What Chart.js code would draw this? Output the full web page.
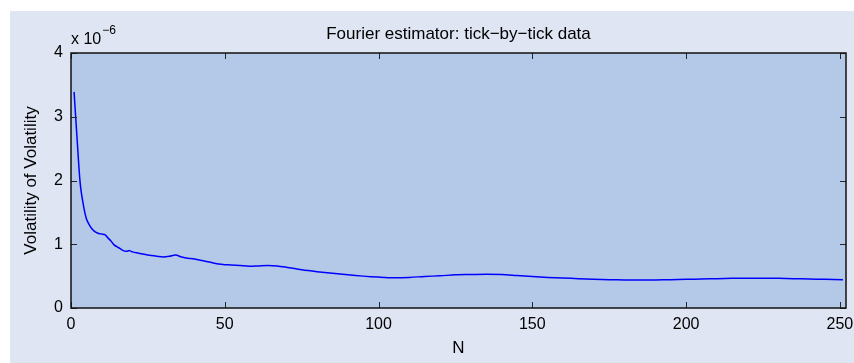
<!DOCTYPE html>
<html lang="en">
<head>
  <meta charset="UTF-8" />
  <title>Fourier estimator: tick-by-tick data</title>
  <script src="https://cdn.jsdelivr.net/npm/chart.js"></script>
  <style>
    body {
      margin: 0;
      background: #ffffff;
    }
    #wrap {
      width: 854px;
      height: 363px;
    }
  </style>
</head>
<body>

<div id="wrap">
  <canvas id="volChart" width="854" height="363"></canvas>
</div>

<script>
// number of tick-by-tick observations N
const nValues = [
  1, 2, 3, 4, 5, 6, 7, 8, 9, 10,
  11, 12, 13, 14, 15, 16, 17, 18, 19, 20,
  22, 25, 28, 30, 32, 34, 36, 38, 40, 42,
  44, 46, 48, 50, 52, 55, 58, 61, 64, 67,
  70, 75, 80, 85, 90, 95, 100, 105, 110, 115,
  120, 125, 130, 135, 140, 145, 150, 155, 160, 165,
  170, 175, 180, 185, 190, 195, 200, 205, 210, 215,
  220, 225, 230, 235, 240, 245, 251
];
// volatility of volatility, in units of 10^-6
const volValues = [
  3.39, 2.64, 1.95, 1.62, 1.40, 1.30, 1.23, 1.19, 1.17, 1.16,
  1.15, 1.10, 1.05, 0.99, 0.96, 0.93, 0.90, 0.89, 0.90, 0.88,
  0.86, 0.83, 0.81, 0.80, 0.81, 0.83, 0.80, 0.78, 0.77, 0.75,
  0.73, 0.71, 0.69, 0.68, 0.675, 0.665, 0.655, 0.66, 0.665, 0.66,
  0.64, 0.60, 0.57, 0.545, 0.52, 0.50, 0.485, 0.475, 0.48, 0.495,
  0.505, 0.52, 0.525, 0.53, 0.525, 0.51, 0.495, 0.48, 0.47, 0.46,
  0.45, 0.445, 0.44, 0.44, 0.44, 0.445, 0.45, 0.455, 0.46, 0.465,
  0.465, 0.465, 0.465, 0.46, 0.455, 0.45, 0.445
];
const xTicks = [0, 50, 100, 150, 200, 250];
const yTicks = [0, 1, 2, 3, 4];
const yExponent = '\u22126';

const FONT = "'Liberation Sans', Arial, sans-serif";
const FIG_BG = '#dfe5f2';
const AX_BG = '#b4c9e8';

// figure background, axes box, inward ticks and text labels (MATLAB look)
const matlabFrame = {
  id: 'matlabFrame',
  beforeDraw(chart) {
    const { ctx, chartArea: a } = chart;
    ctx.save();
    ctx.fillStyle = '#ffffff';
    ctx.fillRect(0, 0, chart.width, chart.height);
    ctx.fillStyle = FIG_BG;
    ctx.fillRect(10, 11, chart.width - 10, chart.height - 11);
    ctx.fillStyle = AX_BG;
    ctx.fillRect(a.left, a.top, a.right - a.left, a.bottom - a.top);
    ctx.restore();
  },
  afterDraw(chart) {
    const { ctx, chartArea: a, scales } = chart;
    const len = 6;
    ctx.save();
    ctx.strokeStyle = '#262626';
    ctx.lineWidth = 1;
    ctx.beginPath();
    xTicks.forEach(v => {
      const px = Math.round(scales.x.getPixelForValue(v)) + 0.5;
      ctx.moveTo(px, a.bottom); ctx.lineTo(px, a.bottom - len);
      ctx.moveTo(px, a.top); ctx.lineTo(px, a.top + len);
    });
    yTicks.forEach(v => {
      const py = Math.round(scales.y.getPixelForValue(v)) + 0.5;
      ctx.moveTo(a.left, py); ctx.lineTo(a.left + len, py);
      ctx.moveTo(a.right, py); ctx.lineTo(a.right - len, py);
    });
    ctx.stroke();

    ctx.strokeStyle = '#111111';
    ctx.lineWidth = 1.5;
    ctx.strokeRect(a.left, a.top, a.right - a.left, a.bottom - a.top);

    ctx.fillStyle = '#000000';
    ctx.textBaseline = 'middle';
    ctx.textAlign = 'center';
    ctx.font = '17px ' + FONT;
    ctx.fillText('Fourier estimator: tick\u2212by\u2212tick data', (a.left + a.right) / 2, 34);

    ctx.textAlign = 'left';
    ctx.font = '16px ' + FONT;
    ctx.fillText('x 10', a.left, 40);
    const w = ctx.measureText('x 10').width;
    ctx.font = '12px ' + FONT;
    ctx.fillText(yExponent, a.left + w + 1, 31);
    ctx.restore();
  }
};

const ctx = document.getElementById('volChart').getContext('2d');
const volChart = new Chart(ctx, {
  type: 'line',
  data: {
    datasets: [{
      label: 'Volatility of Volatility',
      data: nValues.map((n, i) => ({ x: n, y: volValues[i] })),
      borderColor: '#0000ff',
      borderWidth: 1.5,
      pointRadius: 0,
      tension: 0.3,
      fill: false
    }]
  },
  options: {
    responsive: false,
    animation: false,
    layout: { padding: { left: 0, top: 53, right: 8, bottom: 0 } },
    plugins: {
      legend: { display: false },
      tooltip: { enabled: false }
    },
    scales: {
      x: {
        type: 'linear',
        min: 0,
        max: 252,
        afterBuildTicks: s => { s.ticks = xTicks.map(v => ({ value: v })); },
        afterFit: s => {
          s.height = 55;
          // let the last label hang past the plot edge
          s.paddingLeft = 0;
          s.paddingRight = 0;
        },
        grid: { display: false, drawTicks: false },
        border: { display: false },
        ticks: { color: '#000', padding: 7, font: { family: FONT, size: 16 } },
        title: {
          display: true,
          text: 'N',
          color: '#000',
          font: { family: FONT, size: 17 },
          padding: { top: 0, bottom: 4 }
        }
      },
      y: {
        min: 0,
        max: 4,
        afterBuildTicks: s => { s.ticks = yTicks.map(v => ({ value: v })); },
        afterFit: s => {
          s.width = 71;
          s.paddingTop = 0;
          s.paddingBottom = 0;
        },
        grid: { display: false, drawTicks: false },
        border: { display: false },
        ticks: { color: '#000', padding: 8, font: { family: FONT, size: 16 } },
        title: {
          display: true,
          text: 'Volatility of Volatility',
          color: '#000',
          font: { family: FONT, size: 17 },
          padding: { top: 21, bottom: 0 }
        }
      }
    }
  },
  plugins: [matlabFrame]
});
</script>

</body>
</html>
